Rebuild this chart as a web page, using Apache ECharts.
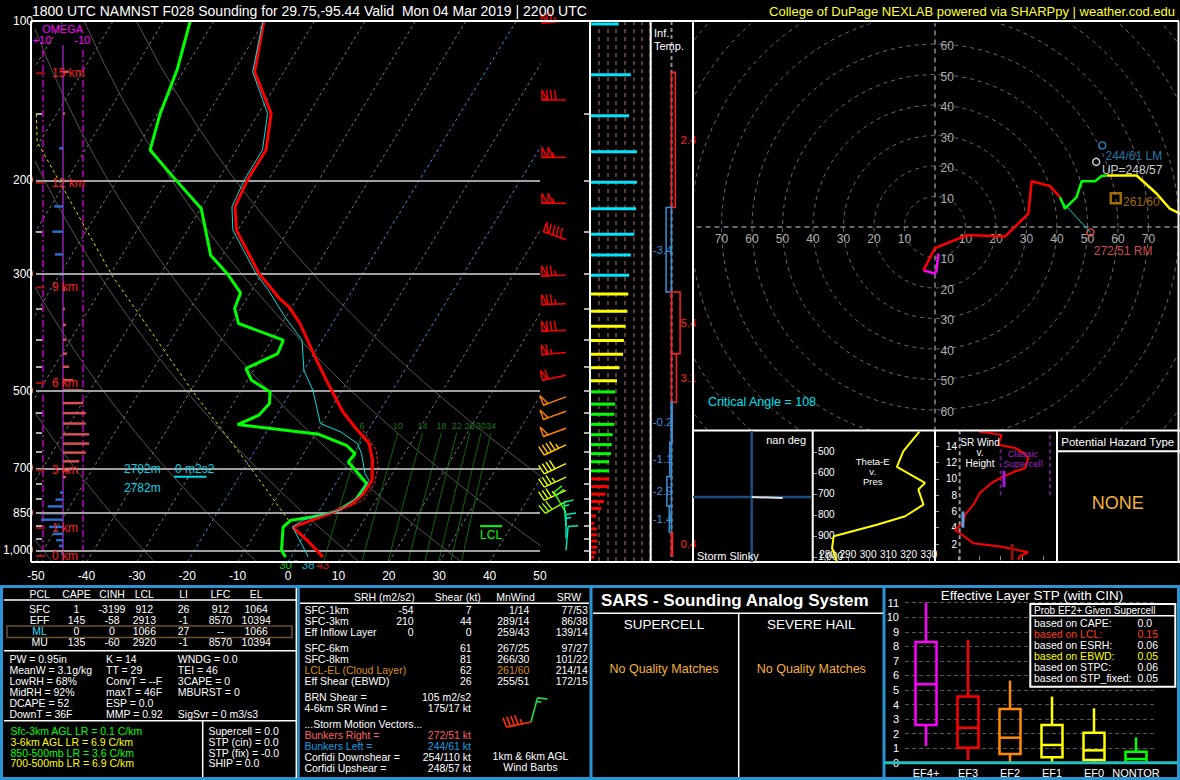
<!DOCTYPE html>
<html><head><meta charset="utf-8">
<script src="https://cdn.jsdelivr.net/npm/echarts@6/dist/echarts.min.js"></script>
<style>html,body{margin:0;padding:0;background:#000;}#c{width:1180px;height:780px;}</style>
</head><body><div id="c"></div>
<script>
// ================= DATA =================
const tempP = [100,124.7,149.5,175.3,199.7,224.4,248.4,299.9,334.4,346.8,372.8,431.1,484.1,547.8,588.8,628.5,676,737.6,781.3,816,846.5,877.8,903.6,957.4,1029];
const tempC = [-70.1,-65.8,-57.5,-54.1,-54.2,-53.4,-50.3,-40.6,-33.5,-30.6,-26.4,-19.4,-13.6,-7.2,-2.6,1.8,4.5,6.8,6.7,5.7,3.0,-0.4,-3.3,1.2,6.3];
const dewP = [100,123.8,149.5,175.3,197,226,276.9,299.9,326.3,349.2,372.8,400.9,424.8,453.4,477,502,528.1,555.6,578.5,603.6,633.2,656.5,681,748.2,804.5,840.3,858.7,877.8,903.6,1000,1029];
const dewC = [-84.7,-81.4,-79.5,-77.1,-69.3,-59.9,-52.4,-46.9,-41.9,-41.2,-38.6,-27.7,-27.2,-31.7,-29.2,-24.1,-22.8,-23.5,-26.6,-9.3,-2.5,0.2,-0.1,6.2,5.9,3.6,1.2,-4.5,-5.2,-2.7,-1.1];
const wbP = [100,124.7,149.5,175.3,199.7,224.4,248.4,299.9,322.5,362.2,400.9,456.8,498.4,576,597.6,628.5,656.5,716.1,737.6,787,840,877.8,903.6,978,1029];
const wbC = [-70.3,-66.2,-58.2,-54.8,-54.8,-54.0,-51.0,-41.2,-36.7,-30.2,-24.0,-20.0,-15.8,-10.3,-5.2,-0.5,1.5,4.6,6.2,6.2,4.0,-2.2,-3.3,0.8,3.4];
const tvP = [593,647.1,695.9,748.2,804.5,846.5,877.8];
const tvC = [-1.0,4.0,6.4,7.7,7.5,3.7,0.0];
const ydP = [150,169.1,302,498.4,685.8,877.8];
const ydC = [-104,-100.5,-69.6,-39.8,-19.9,-4.9];
const sfcF = [30,38,43];
const sfcC = [-1.1,3.4,6.3];
const sfcP = 1029;
const lclP = 900;
const isotherms = [-110,-100,-90,-80,-70,-60,-50,-40,-30,-20,-10,0,10,20,30,40,50];
const dryTheta = [-50,-30,-10,10,30,50,70];
const mixW = [6,10,14,18,22,26,30,34];
const isobarP = [200,300,500,700,850,1000];
const presLabels = [100,200,300,500,700,850,1000];
const presTicks = [100,150,200,250,300,350,400,450,500,550,600,650,700,750,800,850,900,950,1000,1050];
const hKm = [0,1,3,6,9,12,15];
const hP = [1024.8,907.7,706.3,483,318.7,202.2,125.5];
const omegaP = [124.7,149.5,174,200,224,250,276,301,322,350,375,400,425,450,477,498.6,527,550.6,576,603.7,628.6,653.7,679,706,727,778,802,826,851,875,903,931,957,981,1015];
const omegaV = [-3,-1,1.9,1.5,4.4,5.3,4,2,-1,-1,-1.5,-1.5,-2,-3,-5.1,-10.1,-10.1,-11.4,-11.4,-13.1,-13.1,-11.4,-8.1,-3.2,-1.5,1.5,3.8,7.6,11.4,11,7,5,3.4,2,1];
const barbP = [100,141,181,221,259,302,342,384,423,467,513,546,588,632,686,727,770,808,850,900,950,1000];
const barbDir = [265,270,270,270,290,268,268,268,265,258,250,250,250,245,245,245,245,240,330,355,0,5];
const barbSpd = [75,80,105,105,90,75,75,80,65,60,50,50,50,45,40,35,35,30,20,15,15,12];
const srP = [101.3,126.3,151,176.7,201.7,226.4,252.9,276.8,302.2,328,353.3,377.3,401.5,426.1,451.8,478.2,501.9,529.4,553.3,578.1,604.6,631.3,656.7,680.2,707.7,732.9,757.6,783.1,808.6,833.5,861.3,889,910.8,934.8,960.2,986.4,1009.6,1030];
const srKt = [33,47,45,54,54,53,51,47,45,44,43,41,39,38,34,31,29,29,28,28,26,25,24,22,22,22,21,18,16,13,7,5,8,8,8,8,7,5];
const infTop = [125,225,325,425,525,625,725,825,925];
const infBot = [225,325,425,525,625,725,825,925,1025];
const infVal = [2.4,-3.4,5.4,3.1,-0.2,-1.1,-2.9,-1.4,0.4];
const hodo01 = [[1.1,-8.7],[0.5,-14.2],[0,-15.3],[-3.8,-14.2]];
const hodo13 = [[-3.8,-14.2],[0,-6.9],[10.4,-2.7],[12.6,-2.7],[23,-3.1],[30.6,4.4],[31.7,15],[37.7,13.4],[41,9.8]];
const hodo36 = [[41,9.8],[42.6,6],[46.4,9.8],[48.1,15],[52.5,15],[54.6,16.7],[56.3,16.9]];
const hodo69 = [[56.3,16.9],[66.1,16.9],[72.7,10.9],[77,6],[80.3,4.4],[86,2.5]];
const hodoRings = [10,20,30,40,50,60,70,80,90,100,110];
const hodoXTicks = [-70,-60,-50,-40,-30,-20,-10,10,20,30,40,50,60,70];
const hodoYTicks = [-60,-50,-40,-30,-20,-10,10,20,30,40,50,60];
const smDir = [272,244,248,261];
const smSpd = [51,61,57,60];
const inflowTopUV = [40.8,9.3];
const thP = [403.3,495.7,570.8,647.4,679.4,751.2,806.7,846.9,902.4,958.4,1022];
const thK = [325.3,317.4,314.2,328.1,324.8,327.3,318.3,304.3,283,282.2,284.6];
const thXLabels = [280,290,300,310,320,330];
const thYLabels = [500,600,700,800,900,1000];
const srhKt = [26.4,34.5,40.6,38.6,48.7,53.7,56.8,54.8,48.7,41.6,34.5,27.4,23.3,18.3,17.2,12.2,19.3,23.3,39.6,56.8,51.7,50.7];
const srhKm = [15.8,15.6,15.4,14.2,13.8,13.2,12.6,11.3,10.9,10.3,9.5,8.3,6.8,5.6,4.6,3.75,2.7,2.1,1.7,1.0,0.5,0.07];
const srhLabels = [2,4,6,8,10,12,14];
const srMeanKt = [47,17,42];
const srMeanLo = [0,4,9];
const srMeanHi = [2,6,11];
const miniDir = [15,258];
const miniSpd = [14,47];
const stpCats = ['EF4+','EF3','EF2','EF1','EF0','NONTOR'];
const stpBox = [[1.15,2.6,5.4,8.3,11.0],[0.18,1.03,2.4,4.55,8.45],[0,0.6,1.72,3.7,5.65],[0,0.37,1.22,2.6,4.55],[0,0.18,0.85,2.06,3.74],[0,0,0.25,0.76,1.74]];
const stpColors = ['#ff00ff','#ff0000','#ff8c00','#ffff00','#ffff00','#00ff00'];
const probRows = [['based on CAPE:','0.0'],['based on LCL:','0.15'],['based on ESRH:','0.06'],['based on EBWD:','0.05'],['based on STPC:','0.06'],['based on STP_fixed:','0.05']];
const pclHeads = ['PCL','CAPE','CINH','LCL','LI','LFC','EL'];
const pclRows = [['SFC','1','-3199','912','26','912','1064'],['EFF','145','-58','2913','-1','8570','10394'],['ML','0','0','1066','27','--','1066'],['MU','135','-60','2920','-1','8570','10394']];
const idx1 = ['PW = 0.95in','MeanW = 3.1g/kg','LowRH = 68%','MidRH = 92%','DCAPE = 52','DownT = 36F'];
const idx2 = ['K = 14','TT = 29','ConvT = --F','maxT = 46F','ESP = 0.0','MMP = 0.92'];
const idx3 = ['WNDG = 0.0','TEI = 46','3CAPE = 0','MBURST = 0','','SigSvr = 0 m3/s3'];
const lapseTxt = ['Sfc-3km AGL LR = 0.1 C/km','3-6km AGL LR = 6.9 C/km','850-500mb LR = 3.6 C/km','700-500mb LR = 6.9 C/km'];
const compTxt = ['Supercell = 0.0','STP (cin) = 0.0','STP (fix) = -0.0','SHIP = 0.0'];
const kinHeads = ['SRH (m2/s2)','Shear (kt)','MnWind','SRW'];
const kinRows = [['SFC-1km','-54','7','1/14','77/53'],['SFC-3km','210','44','289/14','86/38'],['Eff Inflow Layer','0','0','259/43','139/14'],['SFC-6km','','61','267/25','97/27'],['SFC-8km','','81','266/30','101/22'],['LCL-EL (Cloud Layer)','','62','261/60','214/14'],['Eff Shear (EBWD)','','26','255/51','172/15']];
const kinExtra = [['BRN Shear =','105 m2/s2'],['4-6km SR Wind =','175/17 kt']];
const motionRows = [['Bunkers Right =','272/51 kt'],['Bunkers Left =','244/61 kt'],['Corfidi Downshear =','254/110 kt'],['Corfidi Upshear =','248/57 kt']];

// ================= HELPERS =================
const FF = "'Liberation Sans', Arial, sans-serif";
const SKEW = 63.9, PBOT = 1052, PTOP = 100;
const sx = (T,p) => T + SKEW*Math.log10(PBOT/p);
const skewPts = (P,T) => P.map((p,i)=>[sx(T[i],p),p]);
function tdFromW(w,p){ const e = w*p/(622+w); const l = Math.log(e/6.112); return 243.5*l/(17.67-l); }
function lineS(ax,data,color,width,dash,extra){
  return Object.assign({type:'line',xAxisIndex:ax,yAxisIndex:ax,data:data,symbol:'none',showSymbol:false,silent:true,animation:false,clip:true,
    lineStyle:{color:color,width:width||1,type:dash||'solid'},z:2},extra||{});
}
function tstyle(s,color,size,align,bold){
  return {text:s,fill:color||'#fff',font:(bold?'bold ':'')+(size||10.5)+'px '+FF,align:align||'left',verticalAlign:'middle',textAlign:align||'left',textVerticalAlign:'middle'};
}
function T(x,y,s,color,size,align,bold){ return {type:'text',x:x,y:y,z:200,silent:true,style:tstyle(s,color,size,align,bold)}; }
function LN(x1,y1,x2,y2,color,w,dash){ return {type:'line',z:150,silent:true,shape:{x1:x1,y1:y1,x2:x2,y2:y2},style:{stroke:color,lineWidth:w||1,lineDash:dash||null}}; }
function RC(x,y,w,h,color,lw,fill,z){ return {type:'rect',z:z||150,silent:true,shape:{x:x,y:y,width:w,height:h},style:{stroke:color,lineWidth:lw||1,fill:fill||'none'}}; }
function barbGroup(x,y,dir,spd,color,L,lw){
  const r = dir*Math.PI/180, ux = Math.sin(r), uy = -Math.cos(r), px = -uy, py = ux;
  const tx = x+ux*L, ty = y+uy*L, fl = 10; lw = lw||1.4;
  const ch = [{type:'line',shape:{x1:x,y1:y,x2:tx,y2:ty},style:{stroke:color,lineWidth:lw}}];
  const at = d => [tx-ux*d, ty-uy*d];
  let s = Math.round(spd/5)*5, pos = 0;
  while (s >= 50){ const a = at(pos), b = at(pos+5);
    ch.push({type:'polygon',shape:{points:[a,[a[0]+px*fl,a[1]+py*fl],b]},style:{fill:'none',stroke:color,lineWidth:lw}}); pos += 6; s -= 50; }
  while (s >= 10){ const a = at(pos);
    ch.push({type:'line',shape:{x1:a[0],y1:a[1],x2:a[0]+px*fl+ux*1.5,y2:a[1]+py*fl+uy*1.5},style:{stroke:color,lineWidth:lw}}); pos += 4; s -= 10; }
  if (s >= 5){ if (pos===0) pos = 4; const a = at(pos);
    ch.push({type:'line',shape:{x1:a[0],y1:a[1],x2:a[0]+px*fl*0.5+ux,y2:a[1]+py*fl*0.5+uy},style:{stroke:color,lineWidth:lw}}); }
  return {type:'group',children:ch};
}
function barbColor(p){
  const st = [[0,'#ff0000'],[495,'#ff8000'],[610,'#ffc400'],[660,'#ffff00'],[715,'#ddff00'],[790,'#99ff00'],[830,'#44ff22'],[870,'#00ff88'],[940,'#00eebb']];
  let c = st[0][1]; st.forEach(s=>{ if (p>=s[0]) c = s[1]; }); return c;
}
function srColor(p){ return p<315 ? '#00e5ff' : p<490 ? '#ffff00' : p<720 ? '#00ff00' : '#ff0000'; }

// ================= AXES =================
const hid = {show:false};
const AL = {show:false,onZero:false};
function hAx(gi,type,min,max,extra){ return Object.assign({gridIndex:gi,type:type||'value',min:min,max:max,axisLine:AL,axisTick:hid,axisLabel:hid,splitLine:hid},extra||{}); }
const logY = gi => ({gridIndex:gi,type:'log',logBase:10,min:PTOP,max:PBOT,inverse:true,axisLine:AL,axisTick:hid,axisLabel:hid,splitLine:hid});

const grids = [
  {left:31,top:21,width:509,height:541},
  {left:540,top:21,width:50,height:541},
  {left:590,top:21,width:60,height:541},
  {left:650,top:21,width:43,height:541},
  {left:43,top:21,width:40,height:541},
  {left:693,top:24,width:485,height:406},
  {left:813,top:431,width:122,height:131},
  {left:935,top:430,width:122,height:130.3},
  {left:905,top:602.7,width:252,height:160},
  {left:521,top:712,width:20,height:20}
];
const xAxes = [
  {gridIndex:0,type:'value',min:-50,max:50,interval:10,axisLine:AL,axisTick:hid,splitLine:hid,axisLabel:{color:'#fff',fontSize:12,margin:8,fontFamily:FF}},
  hAx(1,'value',0,50),
  hAx(2,'value',0,69,{interval:10,splitLine:{show:true,lineStyle:{color:'#5b3b2a',width:2,type:[4,4]}}}),
  hAx(3,'value',-13.5,13.5),
  hAx(4,'value',-10,10,{inverse:true}),
  hAx(5,'value',-79.34,79.67),
  {gridIndex:6,type:'value',min:272.8,max:333,axisLine:AL,splitLine:hid,
    axisTick:{show:true,inside:true,length:4,lineStyle:{color:'#999'},customValues:thXLabels},
    axisLabel:{show:true,inside:true,margin:3,color:'#fff',fontSize:10,fontFamily:FF,customValues:thXLabels}},
  {gridIndex:7,type:'value',min:0,max:74.3,axisLine:AL,splitLine:hid,axisLabel:hid,
    axisTick:{show:true,inside:true,length:4,lineStyle:{color:'#999'},customValues:[14,27,40,53,66]}},
  {gridIndex:8,type:'category',data:stpCats,axisLine:AL,axisTick:hid,splitLine:hid,axisLabel:{interval:0,color:'#fff',fontSize:11,margin:5,fontFamily:FF}},
  hAx(9,'value',0,1)
];
const yAxes = [
  {gridIndex:0,type:'log',logBase:10,min:PTOP,max:PBOT,inverse:true,axisLine:AL,splitLine:hid,
    axisTick:{show:true,inside:true,length:6,lineStyle:{color:'#aaa',width:2},customValues:presTicks},
    axisLabel:{show:true,color:'#fff',fontSize:12,margin:3,fontFamily:FF,customValues:presLabels}},
  Object.assign(logY(1),{position:'right',axisTick:{show:true,inside:true,length:6,lineStyle:{color:'#aaa',width:2},customValues:presTicks}}),
  logY(2), logY(3), logY(4),
  hAx(5,'value',-66.56,66.56),
  {gridIndex:6,type:'value',min:400,max:1025,inverse:true,axisLine:AL,splitLine:hid,
    axisTick:{show:true,inside:true,length:4,lineStyle:{color:'#999'},customValues:thYLabels},
    axisLabel:{show:true,inside:true,margin:5,color:'#fff',fontSize:10,fontFamily:FF,customValues:thYLabels}},
  {gridIndex:7,type:'value',min:0,max:16,interval:2,axisLine:AL,splitLine:hid,
    axisTick:{show:true,inside:true,length:4,lineStyle:{color:'#999'},customValues:srhLabels},
    axisLabel:{show:true,inside:true,align:'right',margin:22,color:'#fff',fontSize:10,fontFamily:FF,customValues:srhLabels}},
  {gridIndex:8,type:'value',min:0,max:11,interval:1,axisLine:AL,axisTick:hid,
    splitLine:{show:true,lineStyle:{color:'#555',type:[4,3]}},axisLabel:{color:'#fff',fontSize:11,margin:6,fontFamily:FF}},
  hAx(9,'value',0,1)
];

// ================= SERIES =================
const series = [];
isotherms.forEach((t,k)=>{
  const blue = (t===-20||t===0);
  const s = lineS(0,[[t,PBOT],[sx(t,PTOP),PTOP]], blue?'#3a8fe0':'#7a7a7a',1,[3,3]);
  if (k===0) s.markLine = {silent:true,symbol:['none','none'],label:{show:false},animation:false,
     lineStyle:{color:'#a0a0a0',width:2,type:'solid'},data:isobarP.map(p=>({yAxis:p}))};
  series.push(s);
});
const adP = []; for (let p=100;p<1052;p+=20) adP.push(p); adP.push(1052);
dryTheta.forEach(th=>series.push(lineS(0, adP.map(p=>[sx((th+273.15)*Math.pow(p/1000,0.2857)-273.15,p),p]), '#555',1)));
const mrP = [600,650,700,750,800,850,900,950,1000,1052];
mixW.forEach(w=>series.push(lineS(0, mrP.map(p=>[sx(tdFromW(w,p),p),p]), '#0a6a0a',1)));
series.push({type:'scatter',xAxisIndex:0,yAxisIndex:0,silent:true,animation:false,symbolSize:1,itemStyle:{color:'rgba(0,0,0,0)'},
  data:mixW.map(w=>[sx(tdFromW(w,600),600),600]),
  label:{show:true,position:'top',distance:2,color:'#129a12',fontSize:9,fontFamily:FF,formatter:p=>String(mixW[p.dataIndex])}});
series.push(lineS(0, skewPts(ydP,ydC), '#e0e000',1,[3,3],{z:3}));
series.push(lineS(0, skewPts(tvP,tvC), '#ff2020',1,[3,2],{z:4}));
series.push(lineS(0, skewPts(wbP,wbC), '#00e0e0',1,'solid',{z:6}));
series.push(lineS(0, skewPts(dewP,dewC), '#00ff00',3,'solid',{z:5}));
series.push(lineS(0, skewPts(tempP,tempC), '#ff0000',3,'solid',{z:5}));
const sfcCol = ['#00ff00','#00e5ff','#ff2020'];
series.push({type:'scatter',xAxisIndex:0,yAxisIndex:0,silent:true,animation:false,symbolSize:1,itemStyle:{color:'rgba(0,0,0,0)'},z:8,
  data:sfcC.map((c,i)=>({value:[sx(c,sfcP),sfcP],label:{color:sfcCol[i]}})),
  label:{show:true,position:'inside',offset:[0,8],fontSize:11.5,fontFamily:FF,formatter:p=>String(sfcF[p.dataIndex])}});
series.push({type:'custom',xAxisIndex:0,yAxisIndex:0,silent:true,animation:false,z:8,data:[[40.3,lclP]],
  renderItem:(params,api)=>{ const c = api.coord([api.value(0),api.value(1)]);
    return {type:'group',children:[
      {type:'line',shape:{x1:c[0]-11,y1:c[1],x2:c[0]+11,y2:c[1]},style:{stroke:'#00ff00',lineWidth:2}},
      {type:'text',x:c[0],y:c[1]+9,style:tstyle('LCL','#00ff00',12,'center')}]}; }});
series.push({type:'custom',xAxisIndex:0,yAxisIndex:0,silent:true,animation:false,z:9,data:hP.map(p=>[-50,p]),
  renderItem:(params,api)=>{ const i = params.dataIndex; const c = api.coord([-50,hP[i]]);
    return {type:'group',children:[
      {type:'line',shape:{x1:c[0],y1:c[1],x2:c[0]+9,y2:c[1]},style:{stroke:'#a01010',lineWidth:2}},
      {type:'text',x:c[0]+16,y:c[1],style:tstyle(hKm[i]+' km','#ff2020',12,'left')}]}; }});
series.push(lineS(4,[[10,113.5],[10,PBOT]],'#c000c0',1.5,[7,3,2,3]));
series.push(lineS(4,[[-10,113.5],[-10,PBOT]],'#c000c0',1.5,[7,3,2,3]));
series.push(lineS(4,[[0,111],[0,PBOT]],'#9020b0',1.5));
series.push({type:'custom',xAxisIndex:4,yAxisIndex:4,silent:true,animation:false,z:4,data:omegaP.map(p=>[0,p]),
  renderItem:(params,api)=>{ const i = params.dataIndex; const a = api.coord([0,omegaP[i]]), b = api.coord([omegaV[i],omegaP[i]]);
    return {type:'line',shape:{x1:a[0],y1:a[1],x2:b[0],y2:b[1]},style:{stroke:omegaV[i]<0?'#d95050':'#2a6fd0',lineWidth:2.5}}; }});
series.push({type:'custom',xAxisIndex:1,yAxisIndex:1,silent:true,animation:false,z:6,data:barbP.map(p=>[26,p]),
  renderItem:(params,api)=>{ const i = params.dataIndex; const c = api.coord([26,barbP[i]]);
    return barbGroup(c[0],c[1],barbDir[i],barbSpd[i],barbColor(barbP[i]),24); }});
series.push({type:'custom',xAxisIndex:2,yAxisIndex:2,silent:true,animation:false,z:6,data:srP.map(p=>[0,p]),
  renderItem:(params,api)=>{ const i = params.dataIndex; const a = api.coord([0,srP[i]]), b = api.coord([srKt[i],srP[i]]);
    return {type:'line',shape:{x1:a[0],y1:a[1],x2:b[0],y2:b[1]},style:{stroke:srColor(srP[i]),lineWidth:3}}; }});
series.push(lineS(3,[[0,PTOP],[0,PBOT]],'#909090',2,[4,3]));
series.push({type:'custom',xAxisIndex:3,yAxisIndex:3,silent:true,animation:false,z:6,data:infTop.map(p=>[0,p]),
  renderItem:(params,api)=>{ const i = params.dataIndex, v = infVal[i];
    const a = api.coord([0,infTop[i]]), b = api.coord([v,infBot[i]]);
    const col = v>=0 ? '#ff2020' : '#3a8fd6';
    const x0 = Math.min(a[0],b[0]), w = Math.max(Math.abs(b[0]-a[0]),1);
    return {type:'group',children:[
      {type:'rect',shape:{x:x0,y:a[1],width:w,height:b[1]-a[1]},style:{fill:'none',stroke:col,lineWidth:1.5}},
      {type:'text',x:v>=0?a[0]+9:a[0]+1,y:(a[1]+b[1])/2,style:tstyle(v.toFixed(1),col,11.5,v>=0?'left':'right')}]}; }});
const circ = r => { const o=[]; for (let a=0;a<=360;a+=4){ const t=a*Math.PI/180; o.push([r*Math.cos(t),r*Math.sin(t)]); } return o; };
hodoRings.forEach(r=>series.push(lineS(5,circ(r),'#6a6a6a',1,[4,4])));
series.push(lineS(5,[[-90,0],[90,0]],'#8a8a8a',1.5,[5,4]));
series.push(lineS(5,[[0,-70],[0,70]],'#8a8a8a',1.5,[5,4]));
series.push({type:'scatter',xAxisIndex:5,yAxisIndex:5,silent:true,animation:false,symbolSize:1,itemStyle:{color:'rgba(0,0,0,0)'},
  data:hodoXTicks.map(v=>[v,0]),
  label:{show:true,position:'inside',offset:[0,12],color:'#ddd',fontSize:12,fontFamily:FF,formatter:p=>String(Math.abs(hodoXTicks[p.dataIndex]))}});
series.push({type:'scatter',xAxisIndex:5,yAxisIndex:5,silent:true,animation:false,symbolSize:1,itemStyle:{color:'rgba(0,0,0,0)'},
  data:hodoYTicks.map(v=>[0,v]),
  label:{show:true,position:'right',distance:5,offset:[0,2],color:'#ddd',fontSize:12,fontFamily:FF,formatter:p=>String(Math.abs(hodoYTicks[p.dataIndex]))}});
series.push(lineS(5,hodo01,'#ff00ff',2.5,'solid',{z:5}));
series.push(lineS(5,hodo13,'#ff0000',2.5,'solid',{z:5}));
series.push(lineS(5,hodo36,'#00ff00',2.5,'solid',{z:5}));
series.push(lineS(5,hodo69,'#ffff00',2.5,'solid',{z:5}));
const smUV = smDir.map((d,i)=>{ const r=d*Math.PI/180; return [-smSpd[i]*Math.sin(r), -smSpd[i]*Math.cos(r)]; });
series.push(lineS(5,[inflowTopUV,smUV[0]],'#00d0d0',1,'solid',{z:4}));
const smCol = ['#ff5050','#2f9ad8','#ffffff','#c8860a'];
const smText = [smDir[0]+'/'+smSpd[0]+' RM',smDir[1]+'/'+smSpd[1]+' LM','UP='+smDir[2]+'/'+smSpd[2],smDir[3]+'/'+smSpd[3]];
series.push({type:'scatter',xAxisIndex:5,yAxisIndex:5,silent:true,animation:false,z:7,
  data:smUV.map((uv,i)=>({value:uv,symbol:i===3?'rect':'circle',symbolSize:i===3?10:7,
    itemStyle:{color:'rgba(0,0,0,0)',borderColor:smCol[i],borderWidth:i===3?2.5:1.5},
    label:{show:true,position:'right',color:i===0?'#ff6060':smCol[i],fontSize:12,fontFamily:FF,
      offset:[[-6,19],[-6,11],[-3.5,8],[-4,4]][i],formatter:smText[i]}}))});
series.push(lineS(6,thK.map((k,i)=>[k,thP[i]]),'#ffff00',2));
series.push(lineS(7,[[15,0],[15,16]],'#9a9a9a',2,[4,3]));
series.push(lineS(7,[[40,8],[40,14]],'#6a1a7a',2,[4,3]));
series.push(lineS(7,[[70,8],[70,16]],'#6a1a7a',2,[4,3]));
series.push(lineS(7,srhKt.map((k,i)=>[k,srhKm[i]]),'#ff0000',2,'solid',{z:4}));
const srMeanCol = ['#8b1010','#5aa0e0','#a020e0'];
series.push({type:'custom',xAxisIndex:7,yAxisIndex:7,silent:true,animation:false,z:6,data:srMeanKt.map((k,i)=>[k,srMeanLo[i]]),
  renderItem:(params,api)=>{ const i = params.dataIndex; const a = api.coord([srMeanKt[i],srMeanLo[i]]), b = api.coord([srMeanKt[i],srMeanHi[i]]);
    return {type:'line',shape:{x1:a[0],y1:a[1],x2:b[0],y2:b[1]},style:{stroke:srMeanCol[i],lineWidth:3}}; }});
series.push({type:'custom',xAxisIndex:8,yAxisIndex:8,silent:true,animation:false,z:4,
  data:stpBox.map((b,i)=>[i,b[0],b[1],b[2],b[3],b[4]]),encode:{x:0,y:[1,2,3,4,5]},
  renderItem:(params,api)=>{ const i = params.dataIndex, v = stpBox[i], col = stpColors[i], w = 21;
    const x = api.coord([i,v[2]])[0], y = k => api.coord([i,k])[1];
    const st = {stroke:col,lineWidth:2.5,fill:'none'};
    return {type:'group',children:[
      {type:'line',shape:{x1:x,y1:y(v[0]),x2:x,y2:y(v[1])},style:st},
      {type:'line',shape:{x1:x,y1:y(v[3]),x2:x,y2:y(v[4])},style:st},
      {type:'rect',shape:{x:x-w/2,y:y(v[3]),width:w,height:y(v[1])-y(v[3])},style:st},
      {type:'line',shape:{x1:x-w/2,y1:y(v[2]),x2:x+w/2,y2:y(v[2])},style:st}]}; }});
const miniCol = ['#22dd44','#ff3300'];
series.push({type:'custom',xAxisIndex:9,yAxisIndex:9,silent:true,animation:false,z:6,data:[[0.5,0.5],[0.5,0.5]],
  renderItem:(params,api)=>{ const i = params.dataIndex; const c = api.coord([0.5,0.5]);
    return barbGroup(c[0],c[1],miniDir[i],miniSpd[i],miniCol[i],25,1.6); }});

// ================= GRAPHIC (frames + text) =================
const G = [];
const BL = '#2b95d3';
G.push(LN(31,21,1179,21,'#fff',2));
G.push(LN(31,21,31,562,'#fff',2));
G.push(LN(31,562,693,562,'#fff',2));
G.push(LN(590,21,590,562,'#fff',2));
G.push(LN(650.7,21,650.7,562,'#fff',2));
G.push(LN(693,21,693,562,'#fff',2));
G.push(LN(1178.5,21,1178.5,562,'#fff',2));
G.push(LN(693,430.5,1180,430.5,'#fff',2));
G.push(LN(693,562,1180,562,'#fff',2));
G.push(LN(812.7,431,812.7,562,'#fff',2));
G.push(LN(935,431,935,562,'#fff',2));
G.push(LN(1057,431,1057,562,'#fff',2));
G.push(LN(1057,451.3,1180,451.3,'#fff',2));
G.push(LN(751.7,431,751.7,562,'#1c4f80',2.5));
G.push(LN(693,497,812,497,'#1c4f80',2.5));
G.push(LN(751.7,497,782.7,498,'#e0e0e0',2));
G.push(RC(1.5,586.5,1177,192,BL,3));
G.push(LN(298.5,586,298.5,779,BL,2.5));
G.push(LN(296.3,588,296.3,778,'#fff',1.5));
G.push(LN(591,586,591,779,BL,3));
G.push(LN(884,586,884,779,BL,3));
G.push(LN(4,600,296,600,'#fff',1.5));
G.push(LN(300,603.3,589,603.3,'#fff',1.5));
G.push(LN(4,650.7,296,650.7,'#fff',1.5));
G.push(LN(4,720.7,296,720.7,'#fff',1.5));
G.push(LN(202.7,720.7,202.7,777,'#fff',1.5));
G.push(RC(7,626,285,11.5,'#6b5030',1.5));
G.push(LN(593,613.3,883,613.3,'#fff',1.5));
G.push(LN(738.7,613.3,738.7,777,'#fff',1.5));
G.push(LN(884,762.7,1178,762.7,'#20c0c0',3));
G.push(RC(1030.3,604,145,82.7,'#fff',2,'#000',140));
G.push(LN(1030.3,615.7,1175.3,615.7,'#fff',1.5));
G.push(LN(174,476.7,206.5,476.7,'#00d8e8',2));
G.push(LN(294,561.7,298,561.7,'#fff',2));

G.push(T(32,11,'1800 UTC NAMNST F028 Sounding for 29.75,-95.44 Valid  Mon 04 Mar 2019 | 2200 UTC','#fff',14,'left'));
G.push(T(1175,11,'College of DuPage NEXLAB powered via SHARPpy | weather.cod.edu','#ffff33',13,'right'));
G.push(T(62.7,29.3,'OMEGA','#ff00ff',11,'center'));
G.push(T(42,40,'+10','#ff00ff',11,'center'));
G.push(T(82.5,40,'-10','#ff00ff',11,'center'));
G.push(T(124,469,'2782m','#00d8e8',12,'left'));
G.push(T(124,488,'2782m','#00d8e8',12,'left'));
G.push(T(175,469,'0 m2s2','#00d8e8',12,'left'));
G.push(T(654,33,'Inf.','#fff',11,'left'));
G.push(T(654,46,'Temp.','#fff',11,'left'));
G.push(T(708,401.7,'Critical Angle = 108','#00e0f0',12.5,'left'));
G.push(T(806,440,'nan deg','#fff',11,'right'));
G.push(T(697,556,'Storm Slinky','#fff',11,'left'));
G.push(T(872.7,461,'Theta-E','#fff',9.5,'center'));
G.push(T(872.7,471,'v.','#fff',9.5,'center'));
G.push(T(872.7,481,'Pres','#fff',9.5,'center'));
G.push(T(980,442,'SR Wind','#fff',10,'center'));
G.push(T(980,452.5,'v.','#fff',10,'center'));
G.push(T(980,463,'Height','#fff',10,'center'));
G.push(T(1023,453,'Classic','#a020c0',9.5,'center'));
G.push(T(1023,463.5,'Supercell','#a020c0',9.5,'center'));
G.push(T(1117.7,442.3,'Potential Hazard Type','#fff',11.5,'center'));
G.push(T(1117.7,503,'NONE','#f3b23a',18,'center'));
const pclX = [39.6,76.5,112,144.3,183.5,220.4,256.2];
pclHeads.forEach((h,j)=>G.push(T(pclX[j],594.3,h,'#fff',10.5,'center')));
const pclY = [609,620,631,642];
pclRows.forEach((r,i)=>r.forEach((c,j)=>G.push(T(pclX[j],pclY[i],c,(i===2&&j===0)?'#33ddff':'#fff',10.5,'center'))));
const idxY = [659,670,681,691.7,702.7,713.7];
idx1.forEach((s,i)=>G.push(T(9.4,idxY[i],s,'#fff',10.5,'left')));
idx2.forEach((s,i)=>G.push(T(106,idxY[i],s,'#fff',10.5,'left')));
idx3.forEach((s,i)=>G.push(T(177.8,idxY[i],s,'#fff',10.5,'left')));
const lapY = [730.7,741.7,752.7,763.3], lapC = ['#00ff00','#ffff00','#00ff00','#ffff00'];
lapseTxt.forEach((s,i)=>G.push(T(10.5,lapY[i],s,lapC[i],10.5,'left')));
compTxt.forEach((s,i)=>G.push(T(208.4,lapY[i],s,'#fff',10.5,'left')));
const kinHX = [384.3,457.8,515.5,569];
kinHeads.forEach((h,j)=>G.push(T(kinHX[j],596.7,h,'#fff',10.5,'center')));
const kinY = [610,621,632,648,659,670.3,681.3], kinRX = [413.7,471.7,529.4,587.8];
kinRows.forEach((r,i)=>{
  const lc = i===5 ? '#d4901c' : '#fff';
  G.push(T(304.4,kinY[i],r[0],lc,10.5,'left'));
  for (let j=1;j<5;j++) G.push(T(kinRX[j-1],kinY[i],r[j],(i===5&&j===3)?'#d4901c':'#fff',10.5,'right'));
});
kinExtra.forEach((r,i)=>{ G.push(T(304.4,[696.7,707.7][i],r[0],'#fff',10.5,'left')); G.push(T(471,[696.7,707.7][i],r[1],'#fff',10.5,'right')); });
G.push(T(304.4,724,'...Storm Motion Vectors...','#fff',10.5,'left'));
const motY = [735,746,757.3,767.7], motC = ['#ff6060','#1e9ce0','#fff','#fff'];
motionRows.forEach((r,i)=>{ G.push(T(304.4,motY[i],r[0],motC[i],10.5,'left')); G.push(T(471,motY[i],r[1],motC[i],10.5,'right')); });
G.push(T(530.5,755.7,'1km & 6km AGL','#fff',10.5,'center'));
G.push(T(530.5,766.7,'Wind Barbs','#fff',10.5,'center'));
G.push(T(601,600,'SARS - Sounding Analog System','#fff',17,'left',true));
G.push(T(664,624,'SUPERCELL','#fff',13.5,'center'));
G.push(T(811.3,624,'SEVERE HAIL','#fff',13.5,'center'));
G.push(T(664,669.3,'No Quality Matches','#f3b23a',12.5,'center'));
G.push(T(811.3,669.3,'No Quality Matches','#f3b23a',12.5,'center'));
G.push(T(1032,595,'Effective Layer STP (with CIN)','#fff',13.5,'center'));
G.push(T(1034,610.5,'Prob EF2+ Given Supercell','#fff',10,'left'));
const prY = [623.3,634.3,645.3,656,667,678], prC = ['#fff','#ff3b1a','#fff','#ffff00','#fff','#fff'];
probRows.forEach((r,i)=>{ G.push(T(1034,prY[i],r[0],prC[i],10.5,'left')); G.push(T(1137.6,prY[i],r[1],prC[i],10.5,'left')); });

const chart = echarts.init(document.getElementById('c'), null, {renderer:'svg',width:1180,height:780});
chart.setOption({
  backgroundColor:'#000', animation:false,
  textStyle:{fontFamily:FF},
  grid:grids, xAxis:xAxes, yAxis:yAxes, series:series,
  graphic:{elements:G}
});
</script>
</body></html>
